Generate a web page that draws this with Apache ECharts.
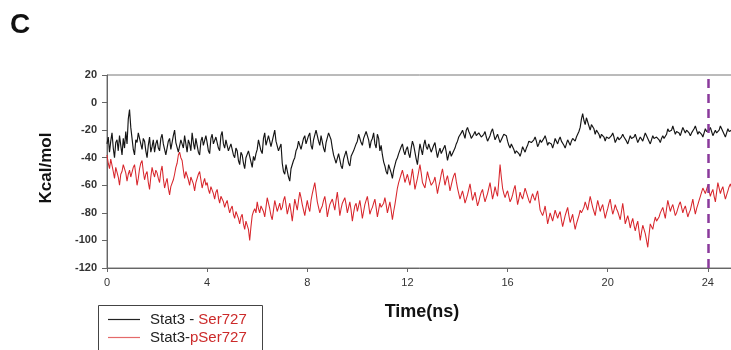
<!DOCTYPE html>
<html><head><meta charset="utf-8">
<script src="https://cdn.jsdelivr.net/npm/echarts@6/dist/echarts.min.js"></script>
<style>html,body{margin:0;padding:0;background:#fff}#c{width:731px;height:350px}</style>
</head><body><div id="c"></div>
<script>
const timeStep = 0.05; // ns between samples
const xTicks = [0, 4, 8, 12, 16, 20, 24];
const yTicks = [20, 0, -20, -40, -60, -80, -100, -120];
const markTime = 24;
const seriesNames = ['Stat3 - Ser727', 'Stat3-pSer727'];
const stat3Ser727 = [
-30,-25,-36,-28,-22,-33,-40,-29,-27,-35,-24,-31,-38,-26,-33,-21,-30,-12,-5,-18,
-26,-34,-38,-27,-29,-22,-21,-30,-34,-26,-28,-35,-40,-31,-25,-36,-32,-27,-36,-30,
-27,-33,-35,-26,-23,-30,-31,-38,-39,-28,-26,-34,-33,-24,-20,-29,-30,-36,-37,-27,
-28,-33,-24,-30,-36,-27,-30,-35,-22,-29,-34,-26,-27,-36,-38,-28,-25,-31,-32,-24,
-29,-35,-37,-26,-23,-30,-31,-25,-26,-33,-35,-24,-21,-30,-33,-27,-28,-35,-36,-30,
-31,-38,-40,-33,-35,-42,-45,-36,-38,-44,-48,-40,-41,-35,-36,-43,-47,-39,-42,-37,
-34,-27,-28,-35,-37,-26,-22,-31,-30,-24,-25,-32,-33,-24,-20,-28,-29,-35,-36,-30,
-44,-50,-52,-45,-46,-54,-57,-48,-49,-42,-40,-35,-33,-28,-27,-34,-35,-26,-24,-30,
-30,-24,-22,-31,-34,-27,-26,-20,-19,-28,-31,-24,-25,-33,-36,-29,-28,-22,-21,-27,
-33,-38,-39,-44,-45,-37,-38,-46,-48,-41,-42,-35,-36,-44,-46,-39,-40,-35,-34,-30,
-28,-23,-22,-29,-31,-26,-25,-21,-20,-27,-33,-28,-26,-22,-30,-33,-23,-26,-35,-31,
-38,-43,-46,-50,-52,-45,-44,-51,-55,-49,-48,-42,-40,-37,-36,-32,-30,-35,-38,-34,
-32,-37,-40,-33,-28,-31,-36,-41,-45,-37,-30,-34,-38,-31,-27,-32,-34,-30,-31,-36,
-36,-31,-29,-35,-40,-36,-33,-37,-38,-33,-31,-36,-42,-38,-35,-39,-39,-35,-33,-30,
-28,-25,-24,-22,-20,-23,-26,-20,-18,-21,-23,-26,-27,-23,-21,-24,-25,-22,-22,-25,
-26,-23,-21,-25,-28,-26,-24,-21,-19,-23,-27,-25,-23,-26,-29,-27,-25,-23,-22,-24,
-28,-31,-33,-30,-30,-34,-37,-35,-34,-37,-39,-36,-32,-34,-36,-33,-31,-28,-27,-29,
-30,-27,-25,-28,-32,-30,-27,-29,-29,-26,-24,-27,-31,-29,-28,-30,-33,-30,-26,-28,
-30,-27,-25,-28,-29,-31,-33,-30,-27,-29,-31,-28,-26,-27,-28,-25,-24,-21,-18,-12,
-8,-13,-16,-11,-12,-17,-20,-16,-15,-19,-23,-20,-19,-23,-26,-23,-22,-25,-28,-25,
-24,-26,-27,-24,-22,-25,-29,-27,-25,-27,-28,-25,-23,-25,-26,-28,-30,-27,-24,-26,
-27,-25,-23,-26,-29,-27,-25,-26,-28,-25,-22,-24,-26,-28,-30,-27,-24,-26,-27,-25,
-25,-27,-29,-26,-24,-26,-27,-23,-19,-21,-22,-20,-17,-20,-23,-21,-20,-22,-24,-21,
-18,-20,-22,-20,-19,-22,-24,-22,-21,-19,-17,-20,-23,-21,-20,-23,-25,-22,-19,-21,
-22,-20,-18,-21,-24,-22,-20,-22,-23,-20,-17,-19,-21,-23,-25,-22,-19,-21,-22,-20
];
const stat3pSer727 = [
-38,-44,-48,-41,-42,-50,-55,-47,-46,-54,-60,-52,-50,-45,-44,-51,-57,-52,-49,-54,
-53,-47,-45,-52,-60,-55,-48,-44,-42,-50,-56,-52,-50,-58,-63,-54,-47,-51,-54,-49,
-51,-55,-58,-50,-46,-55,-62,-58,-55,-62,-67,-61,-60,-56,-52,-47,-44,-38,-36,-40,
-42,-49,-55,-50,-49,-56,-60,-54,-53,-59,-64,-58,-57,-52,-50,-56,-62,-58,-55,-60,
-58,-63,-66,-61,-60,-66,-70,-65,-63,-69,-73,-68,-68,-72,-76,-73,-71,-76,-80,-77,
-75,-81,-84,-79,-78,-84,-88,-83,-81,-88,-92,-86,-85,-92,-100,-90,-82,-79,-77,-80,
-72,-77,-80,-75,-74,-79,-83,-76,-69,-73,-77,-82,-85,-78,-71,-75,-79,-76,-73,-78,
-76,-71,-68,-74,-81,-77,-73,-79,-86,-78,-70,-74,-78,-71,-65,-69,-74,-78,-82,-76,
-71,-76,-79,-71,-66,-62,-58,-65,-72,-76,-80,-77,-75,-71,-68,-74,-83,-78,-74,-72,
-70,-74,-78,-71,-65,-73,-82,-77,-73,-71,-69,-74,-80,-76,-72,-78,-86,-80,-75,-73,
-79,-75,-71,-77,-84,-79,-74,-71,-68,-74,-81,-78,-76,-73,-70,-76,-83,-78,-73,-76,
-77,-73,-69,-74,-80,-76,-72,-78,-85,-79,-74,-68,-62,-58,-55,-52,-49,-53,-58,-55,
-52,-56,-60,-54,-48,-55,-63,-59,-55,-50,-45,-51,-58,-60,-62,-56,-50,-54,-57,-60,
-61,-57,-54,-60,-66,-61,-57,-52,-48,-54,-60,-56,-53,-58,-64,-60,-56,-53,-51,-57,
-62,-66,-70,-67,-64,-68,-73,-70,-67,-63,-59,-65,-71,-68,-65,-70,-75,-72,-68,-65,
-63,-68,-72,-69,-66,-62,-58,-64,-70,-66,-61,-65,-68,-57,-45,-54,-62,-66,-69,-66,
-64,-68,-72,-70,-67,-63,-60,-67,-74,-70,-65,-68,-70,-66,-62,-65,-68,-71,-73,-69,
-66,-69,-71,-67,-64,-71,-78,-80,-82,-79,-75,-81,-88,-84,-80,-83,-86,-82,-78,-81,
-84,-81,-79,-85,-90,-86,-82,-79,-76,-82,-87,-84,-81,-87,-92,-88,-85,-82,-78,-80,
-80,-76,-72,-75,-78,-73,-68,-72,-76,-79,-82,-76,-71,-75,-79,-76,-74,-79,-84,-80,
-77,-73,-70,-76,-81,-78,-74,-77,-79,-82,-85,-79,-73,-80,-88,-85,-82,-86,-91,-87,
-84,-89,-93,-89,-86,-93,-100,-94,-89,-92,-95,-100,-105,-96,-88,-90,-92,-87,-83,-86,
-87,-83,-80,-78,-76,-80,-84,-77,-71,-75,-79,-76,-74,-78,-82,-80,-77,-74,-72,-76,
-80,-77,-75,-79,-83,-80,-78,-74,-70,-76,-81,-77,-74,-71,-68,-65,-62,-64,-66,-63,
-60,-64,-68,-65,-63,-68,-72,-65,-58,-62,-66,-63,-61,-66,-70,-67,-64,-61,-59,-62
];

const toPairs = arr => arr.map((v, i) => [+(i * timeStep).toFixed(2), v]);
const chart = echarts.init(document.getElementById('c'), null, {renderer: 'canvas'});
chart.setOption({
  animation: false,
  backgroundColor: '#ffffff',
  grid: {left: 107, top: 75, width: 701, height: 193, show: true, borderColor: '#777', borderWidth: 1,
    backgroundColor: 'transparent', outerBoundsMode: 'none', containLabel: false},
  xAxis: {
    type: 'value', min: 0, max: 28, interval: 4,
    axisLine: {show: true, onZero: false, lineStyle: {color: '#666', width: 1}},
    axisTick: {show: true, length: 4, lineStyle: {color: '#666'}},
    splitLine: {show: false},
    axisLabel: {color: '#333', fontSize: 11, fontFamily: 'Liberation Sans, Arial', margin: 9,
      formatter: v => xTicks.includes(v) ? String(v) : ''}
  },
  yAxis: {
    type: 'value', min: -120, max: 20, interval: 20,
    axisLine: {show: true, onZero: false, lineStyle: {color: '#666', width: 1}},
    axisTick: {show: true, length: 5, lineStyle: {color: '#666'}},
    splitLine: {show: false},
    axisLabel: {color: '#333', fontSize: 11, fontWeight: 'bold', fontFamily: 'Liberation Sans, Arial', margin: 10,
      formatter: v => yTicks.includes(v) ? String(v) : ''}
  },
  legend: {
    orient: 'vertical', left: 108, top: 312,
    padding: 0, itemWidth: 32, itemHeight: 10, itemGap: 3,
    data: [
      {name: seriesNames[0], icon: 'path://M0,4.4 L32,4.4 L32,5.6 L0,5.6 Z', itemStyle: {color: '#222'}},
      {name: seriesNames[1], icon: 'path://M0,4.4 L32,4.4 L32,5.6 L0,5.6 Z', itemStyle: {color: '#e46a6a'}}
    ],
    formatter: n => n === seriesNames[0] ? '{b|Stat3 - }{r|Ser727}' : '{b|Stat3-}{r|pSer727}',
    textStyle: {
      padding: [0, 0, 0, 5],
      rich: {
        b: {color: '#222', fontSize: 15, fontFamily: 'Liberation Sans, Arial'},
        r: {color: '#cc2a2a', fontSize: 15, fontFamily: 'Liberation Sans, Arial'}
      }
    }
  },
  graphic: [
    {type: 'rect', shape: {x: 98.5, y: 305.5, width: 164, height: 60}, style: {fill: 'none', stroke: '#444', lineWidth: 1}, z: 1},
    {type: 'text', x: 20, y: 25, style: {text: 'C', font: 'bold 28px "Liberation Sans", Arial', fill: '#111', align: 'center', verticalAlign: 'middle'}},
    {type: 'text', x: 46, y: 168, rotation: Math.PI / 2, style: {text: 'Kcal/mol', font: 'bold 17px "Liberation Sans", Arial', fill: '#111', align: 'center', verticalAlign: 'middle'}},
    {type: 'text', x: 422, y: 312, style: {text: 'Time(ns)', font: 'bold 18px "Liberation Sans", Arial', fill: '#111', align: 'center', verticalAlign: 'middle'}}
  ],
  series: [
    {
      name: seriesNames[0], type: 'line', data: toPairs(stat3Ser727), showSymbol: false, symbol: 'none',
      lineStyle: {color: '#151515', width: 1.15}, itemStyle: {color: '#222'}, z: 3
    },
    {
      name: seriesNames[1], type: 'line', data: toPairs(stat3pSer727), showSymbol: false, symbol: 'none',
      lineStyle: {color: '#d8262c', width: 1.05}, itemStyle: {color: '#e46a6a'}, z: 2,
      markLine: {
        silent: true, symbol: 'none', label: {show: false},
        lineStyle: {color: '#8a3a9c', width: 2.5, type: [9, 6]},
        data: [{xAxis: markTime}]
      }
    }
  ]
});
</script></body></html>
